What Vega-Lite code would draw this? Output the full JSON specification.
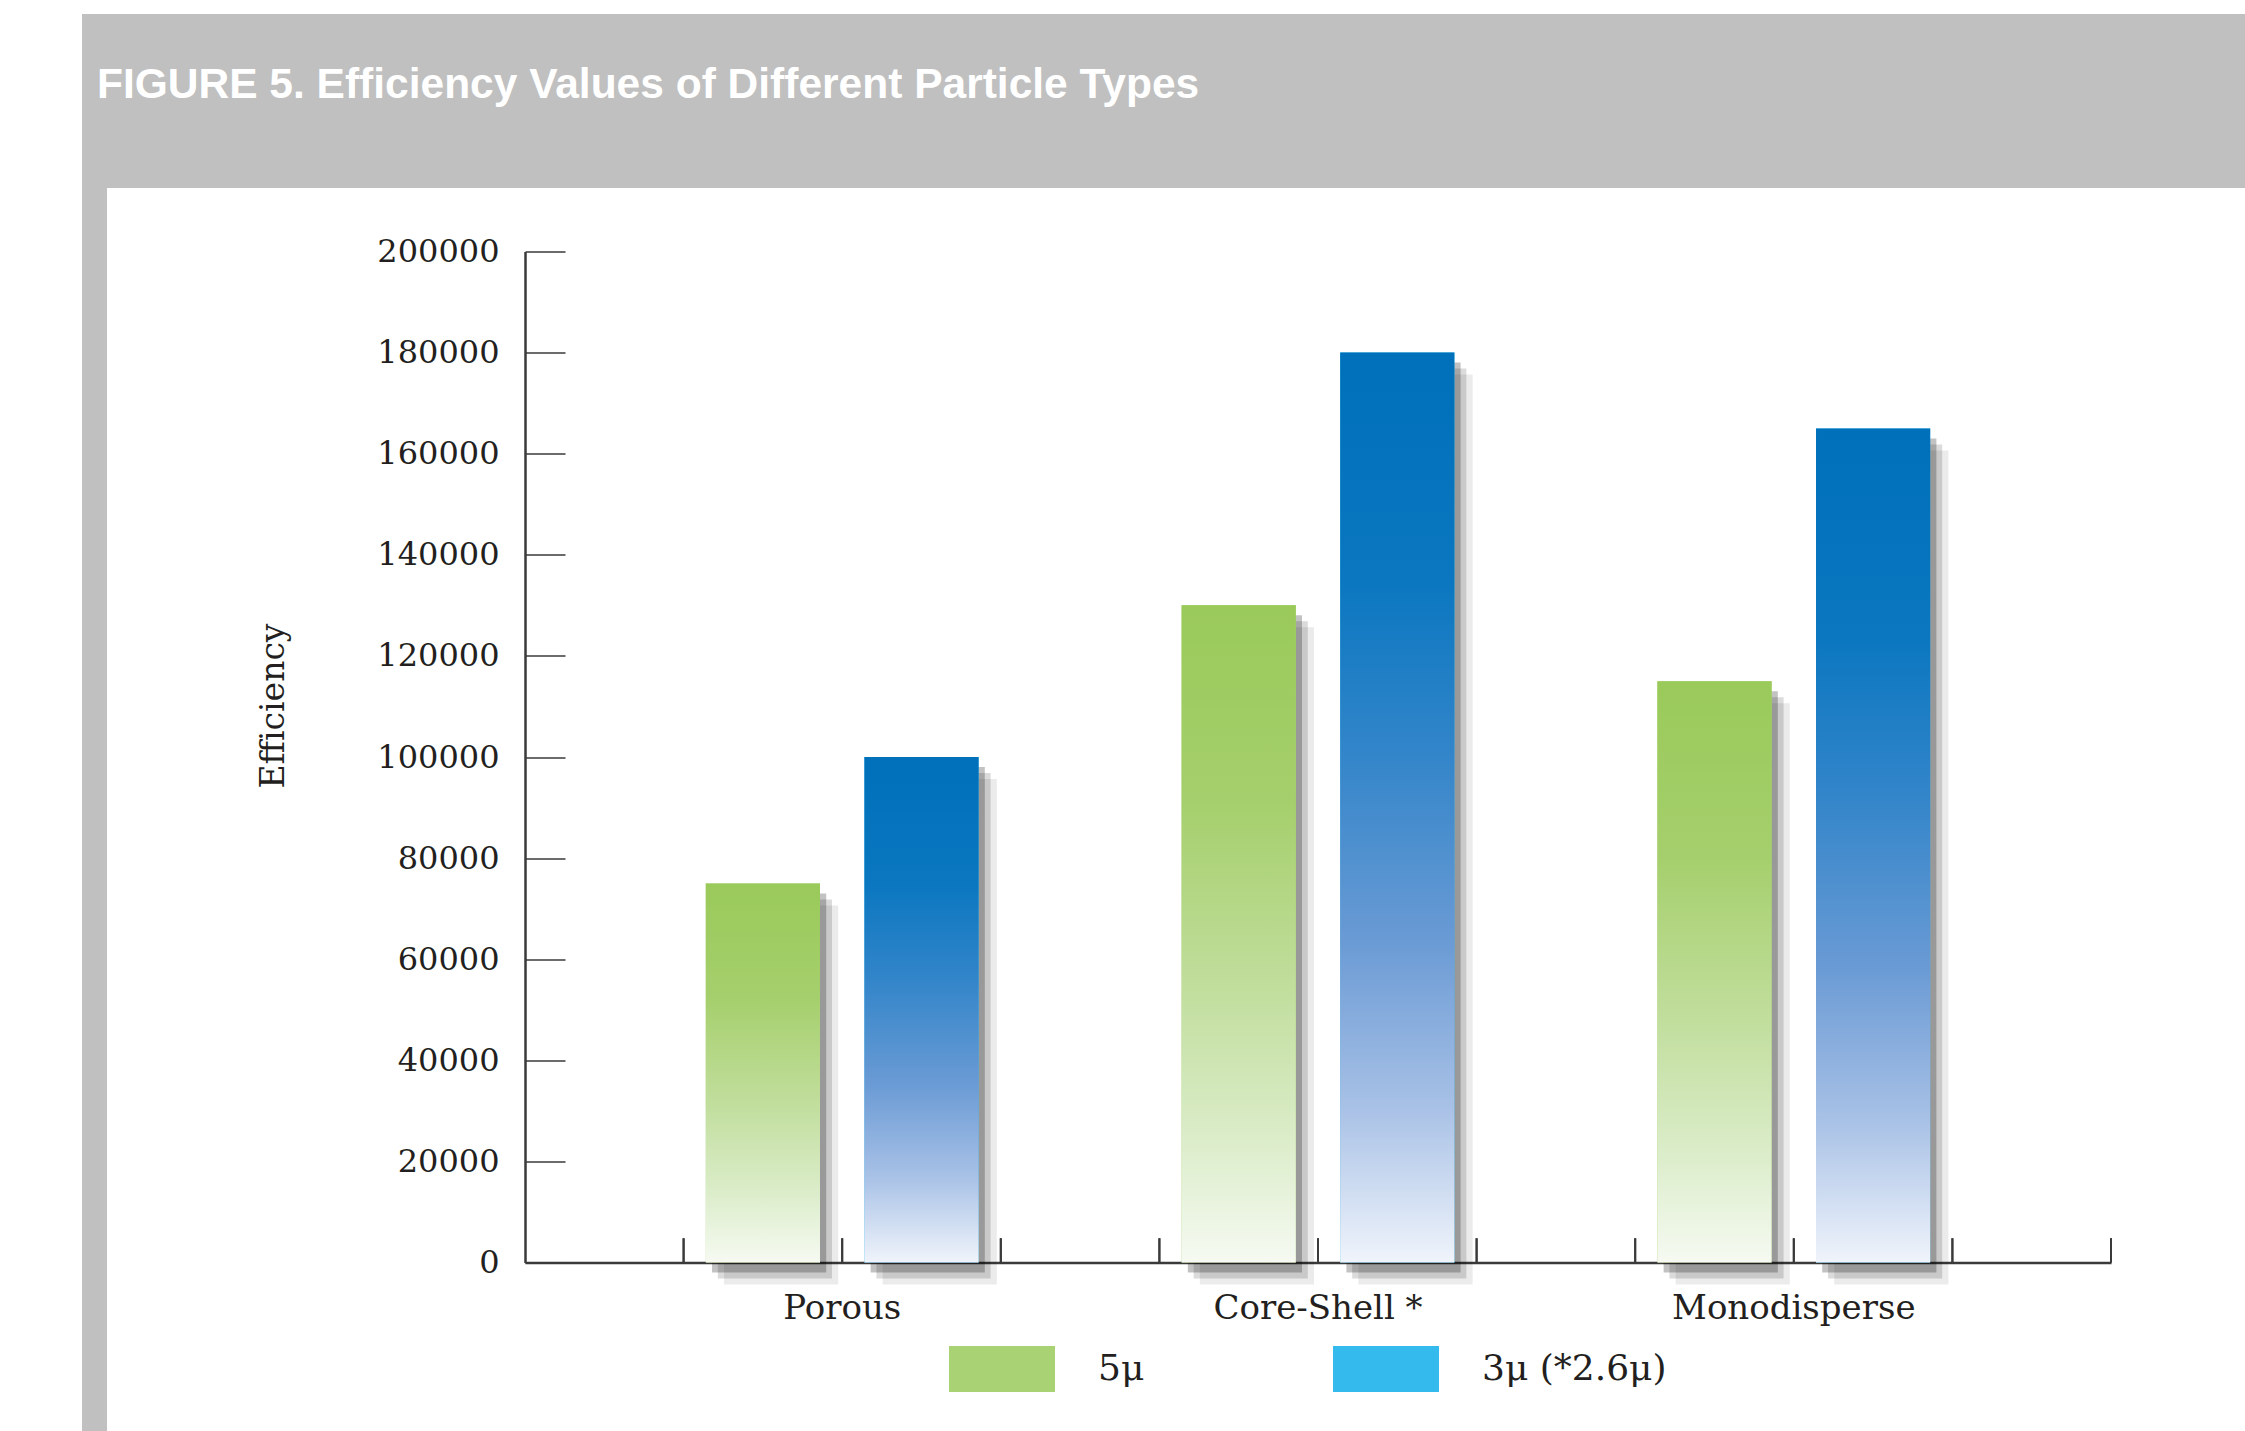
{
  "$schema": "https://vega.github.io/schema/vega-lite/v6.json",
  "background": "white",
  "padding": {"left": 82, "top": 14, "right": 0, "bottom": 0},
  "spacing": 0,
  "resolve": {"legend": {"color": "independent"}},
  "config": {
    "view": {"stroke": null},
    "axisX": {"ticks": false, "labelPadding": 29, "labelFont": "DejaVu Serif", "labelFontSize": 34, "labelColor": "#231f20", "labelAngle": 0, "labelLimit": 0, "domainColor": "#3a3a3a", "domainWidth": 2.5, "zindex": 1, "grid": false},
    "axisY": {"tickSize": -40, "tickWidth": 1.5, "tickColor": "#3a3a3a", "domainColor": "#3a3a3a", "domainWidth": 2.5, "labelFont": "DejaVu Serif", "labelFontSize": 32, "labelColor": "#231f20", "labelPadding": 66, "grid": false, "titleFont": "DejaVu Serif", "titleFontSize": 33, "titleFontWeight": "normal", "titleColor": "#231f20", "titleX": -252, "titleY": 454, "titleAngle": -90, "titleAlign": "center", "titleBaseline": "middle", "zindex": 1}
  },
  "vconcat": [
    {
      "width": 2163,
      "height": 174,
      "view": {"fill": "#c0c0c0", "stroke": null},
      "title": {"text": "FIGURE 5. Efficiency Values of Different Particle Types", "frame": "group", "anchor": "start", "orient": "top", "offset": -126, "baseline": "alphabetic", "dx": 15, "color": "white", "font": "Liberation Sans", "fontSize": 42.5, "fontWeight": "bold"},
      "data": {"values": [{"panel": "header"}]},
      "mark": {"type": "rect", "color": "#c0c0c0"}
    },
    {
      "spacing": 150,
      "center": true,
      "resolve": {"legend": {"color": "independent"}},
      "hconcat": [
        {
          "width": 25,
          "height": 1268,
          "view": {"fill": "#c0c0c0", "stroke": null},
          "data": {"values": [{"panel": "side"}]},
          "mark": {"type": "rect", "color": "#c0c0c0"}
        },
        {
          "width": 1586,
          "height": 1011,
          "resolve": {"scale": {"xOffset": "independent"}},
          "data": {"values": [
            {"particle": "Porous", "size": "5μ", "efficiency": 75000},
            {"particle": "Porous", "size": "3μ (*2.6μ)", "efficiency": 100000},
            {"particle": "Core-Shell *", "size": "5μ", "efficiency": 130000},
            {"particle": "Core-Shell *", "size": "3μ (*2.6μ)", "efficiency": 180000},
            {"particle": "Monodisperse", "size": "5μ", "efficiency": 115000},
            {"particle": "Monodisperse", "size": "3μ (*2.6μ)", "efficiency": 165000}
          ]},
          "layer": [
            {
              "mark": {"type": "bar", "color": "#000000", "opacity": 0.08, "yOffset": 22},
              "encoding": {
                "x": {"field": "particle", "type": "nominal", "sort": ["Porous", "Core-Shell *", "Monodisperse"], "scale": {"paddingInner": 0.33333, "paddingOuter": 0.33333}, "axis": {"title": null}},
                "xOffset": {"field": "size", "type": "nominal", "scale": {"domain": ["5μ", "3μ (*2.6μ)"], "paddingInner": 0.28, "paddingOuter": 0.14, "align": 0.91}},
                "y": {"field": "efficiency", "type": "quantitative", "scale": {"domain": [0, 200000], "nice": false}, "axis": {"title": "Efficiency", "format": "d", "values": [0, 20000, 40000, 60000, 80000, 100000, 120000, 140000, 160000, 180000, 200000]}}
              }
            },
            {
              "mark": {"type": "bar", "color": "#000000", "opacity": 0.14, "yOffset": 16},
              "encoding": {
                "x": {"field": "particle", "type": "nominal", "sort": ["Porous", "Core-Shell *", "Monodisperse"], "scale": {"paddingInner": 0.33333, "paddingOuter": 0.33333}, "axis": {"title": null}},
                "xOffset": {"field": "size", "type": "nominal", "scale": {"domain": ["5μ", "3μ (*2.6μ)"], "paddingInner": 0.28, "paddingOuter": 0.14, "align": 0.77}},
                "y": {"field": "efficiency", "type": "quantitative", "scale": {"domain": [0, 200000], "nice": false}, "axis": {"title": "Efficiency", "format": "d", "values": [0, 20000, 40000, 60000, 80000, 100000, 120000, 140000, 160000, 180000, 200000]}}
              }
            },
            {
              "mark": {"type": "bar", "color": "#000000", "opacity": 0.24, "yOffset": 10},
              "encoding": {
                "x": {"field": "particle", "type": "nominal", "sort": ["Porous", "Core-Shell *", "Monodisperse"], "scale": {"paddingInner": 0.33333, "paddingOuter": 0.33333}, "axis": {"title": null}},
                "xOffset": {"field": "size", "type": "nominal", "scale": {"domain": ["5μ", "3μ (*2.6μ)"], "paddingInner": 0.28, "paddingOuter": 0.14, "align": 0.64}},
                "y": {"field": "efficiency", "type": "quantitative", "scale": {"domain": [0, 200000], "nice": false}, "axis": {"title": "Efficiency", "format": "d", "values": [0, 20000, 40000, 60000, 80000, 100000, 120000, 140000, 160000, 180000, 200000]}}
              }
            },
            {
              "mark": {"type": "bar"},
              "encoding": {
                "x": {"field": "particle", "type": "nominal", "sort": ["Porous", "Core-Shell *", "Monodisperse"], "scale": {"paddingInner": 0.33333, "paddingOuter": 0.33333}, "axis": {"title": null}},
                "xOffset": {"field": "size", "type": "nominal", "scale": {"domain": ["5μ", "3μ (*2.6μ)"], "paddingInner": 0.28, "paddingOuter": 0.14}},
                "y": {"field": "efficiency", "type": "quantitative", "scale": {"domain": [0, 200000], "nice": false}, "axis": {"title": "Efficiency", "format": "d", "values": [0, 20000, 40000, 60000, 80000, 100000, 120000, 140000, 160000, 180000, 200000]}},
                "color": {
                  "field": "size", "type": "nominal",
                  "scale": {"domain": ["5μ", "3μ (*2.6μ)"], "range": ["#a8d274", "#35baee"]},
                  "legend": {
                    "orient": "none", "legendX": 424, "legendY": 1064, "direction": "horizontal", "title": null,
                    "symbolType": "M-1,-0.434L1,-0.434L1,0.434L-1,0.434Z", "symbolSize": 11236, "symbolStrokeWidth": 0, "symbolOpacity": 1,
                    "labelFont": "DejaVu Serif", "labelFontSize": 36, "labelColor": "#231f20", "labelOffset": 43, "columnPadding": 188, "labelLimit": 0
                  }
                }
              }
            },
            {
              "transform": [{"filter": "datum.size === '5μ'"}],
              "mark": {"type": "bar", "color": {"gradient": "linear", "x1": 0, "y1": 0, "x2": 0, "y2": 1, "stops": [{"offset": 0, "color": "#9aca5a"}, {"offset": 0.3, "color": "#a5cf6c"}, {"offset": 0.6, "color": "#c3dfa0"}, {"offset": 0.82, "color": "#dcedcb"}, {"offset": 1, "color": "#f6faf2"}]}},
              "encoding": {
                "x": {"field": "particle", "type": "nominal", "sort": ["Porous", "Core-Shell *", "Monodisperse"], "scale": {"paddingInner": 0.33333, "paddingOuter": 0.33333}, "axis": {"title": null}},
                "xOffset": {"field": "size", "type": "nominal", "scale": {"domain": ["5μ", "3μ (*2.6μ)"], "paddingInner": 0.28, "paddingOuter": 0.14}},
                "y": {"field": "efficiency", "type": "quantitative", "scale": {"domain": [0, 200000], "nice": false}, "axis": {"title": "Efficiency", "format": "d", "values": [0, 20000, 40000, 60000, 80000, 100000, 120000, 140000, 160000, 180000, 200000]}}
              }
            },
            {
              "transform": [{"filter": "datum.size !== '5μ'"}],
              "mark": {"type": "bar", "color": {"gradient": "linear", "x1": 0, "y1": 0, "x2": 0, "y2": 1, "stops": [{"offset": 0, "color": "#0070ba"}, {"offset": 0.25, "color": "#0a77c0"}, {"offset": 0.45, "color": "#3586ca"}, {"offset": 0.65, "color": "#6b9bd5"}, {"offset": 0.83, "color": "#a8c1e6"}, {"offset": 1, "color": "#f0f4fb"}]}},
              "encoding": {
                "x": {"field": "particle", "type": "nominal", "sort": ["Porous", "Core-Shell *", "Monodisperse"], "scale": {"paddingInner": 0.33333, "paddingOuter": 0.33333}, "axis": {"title": null}},
                "xOffset": {"field": "size", "type": "nominal", "scale": {"domain": ["5μ", "3μ (*2.6μ)"], "paddingInner": 0.28, "paddingOuter": 0.14}},
                "y": {"field": "efficiency", "type": "quantitative", "scale": {"domain": [0, 200000], "nice": false}, "axis": {"title": "Efficiency", "format": "d", "values": [0, 20000, 40000, 60000, 80000, 100000, 120000, 140000, 160000, 180000, 200000]}}
              }
            },
            {
              "mark": {"type": "rule", "color": "#3a3a3a", "strokeWidth": 2},
              "encoding": {
                "x": {"field": "particle", "type": "nominal", "sort": ["Porous", "Core-Shell *", "Monodisperse"], "bandPosition": 0, "scale": {"paddingInner": 0.33333, "paddingOuter": 0.33333}, "axis": {"title": null}},
                "y": {"datum": 0, "type": "quantitative", "scale": {"domain": [0, 200000], "nice": false}, "axis": {"title": "Efficiency", "format": "d", "values": [0, 20000, 40000, 60000, 80000, 100000, 120000, 140000, 160000, 180000, 200000]}},
                "y2": {"datum": 4800}
              }
            },
            {
              "mark": {"type": "rule", "color": "#3a3a3a", "strokeWidth": 2},
              "encoding": {
                "x": {"field": "particle", "type": "nominal", "sort": ["Porous", "Core-Shell *", "Monodisperse"], "bandPosition": 0.5, "scale": {"paddingInner": 0.33333, "paddingOuter": 0.33333}, "axis": {"title": null}},
                "y": {"datum": 0, "type": "quantitative", "scale": {"domain": [0, 200000], "nice": false}, "axis": {"title": "Efficiency", "format": "d", "values": [0, 20000, 40000, 60000, 80000, 100000, 120000, 140000, 160000, 180000, 200000]}},
                "y2": {"datum": 4800}
              }
            },
            {
              "mark": {"type": "rule", "color": "#3a3a3a", "strokeWidth": 2},
              "encoding": {
                "x": {"field": "particle", "type": "nominal", "sort": ["Porous", "Core-Shell *", "Monodisperse"], "bandPosition": 1, "scale": {"paddingInner": 0.33333, "paddingOuter": 0.33333}, "axis": {"title": null}},
                "y": {"datum": 0, "type": "quantitative", "scale": {"domain": [0, 200000], "nice": false}, "axis": {"title": "Efficiency", "format": "d", "values": [0, 20000, 40000, 60000, 80000, 100000, 120000, 140000, 160000, 180000, 200000]}},
                "y2": {"datum": 4800}
              }
            },
            {
              "transform": [{"filter": "datum.particle === 'Monodisperse'"}],
              "mark": {"type": "rule", "color": "#3a3a3a", "strokeWidth": 2},
              "encoding": {
                "x": {"field": "particle", "type": "nominal", "sort": ["Porous", "Core-Shell *", "Monodisperse"], "bandPosition": 1.5, "scale": {"paddingInner": 0.33333, "paddingOuter": 0.33333}, "axis": {"title": null}},
                "y": {"datum": 0, "type": "quantitative", "scale": {"domain": [0, 200000], "nice": false}, "axis": {"title": "Efficiency", "format": "d", "values": [0, 20000, 40000, 60000, 80000, 100000, 120000, 140000, 160000, 180000, 200000]}},
                "y2": {"datum": 4800}
              }
            }
          ]
        }
      ]
    }
  ]
}
